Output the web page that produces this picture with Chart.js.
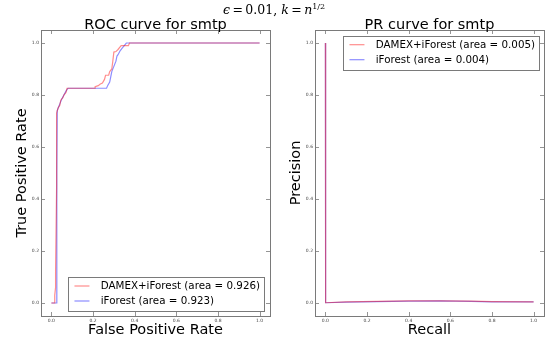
<!DOCTYPE html>
<html>
<head>
  <script src="https://cdn.jsdelivr.net/npm/chart.js"></script>
  <style>
    body { margin: 0; background: #fff; }
    #wrap { position: relative; width: 548px; height: 345px; }
    canvas { position: absolute; top: 0; }
    #suptitle {
      position: absolute; top: 2px; left: 0; width: 548px; text-align: center;
      font-family: "DejaVu Serif", serif; font-size: 12.5px; color: #000;
    }
    #suptitle i { font-style: italic; }
    #suptitle sup { font-size: 8px; vertical-align: 5px; line-height: 0; }
  </style>
</head>
<body>
  <div id="wrap">
    <canvas id="rocChart" width="274" height="345" style="left:0"></canvas>
    <canvas id="prChart" width="274" height="345" style="left:274px"></canvas>
    <div id="suptitle"><i>ϵ</i>&#8201;=&#8201;0.01, <i>k</i>&#8201;=&#8201;<i>n</i><sup>1/2</sup></div>
  </div>
</body>
<script>
  // tick labels shared by both panels
  var tickValues = [0.0, 0.2, 0.4, 0.6, 0.8, 1.0];

  // ROC curve, DAMEX+iForest
  var rocDamexFpr = [0, 0.016, 0.016, 0.02, 0.02, 0.025, 0.025, 0.032, 0.04, 0.045, 0.055, 0.06, 0.07, 0.075,
                     0.21, 0.21, 0.225, 0.235, 0.245, 0.255, 0.26, 0.275, 0.28, 0.29, 0.295, 0.30, 0.31,
                     0.32, 0.33, 0.335, 0.35, 0.37, 0.375, 1.0];
  var rocDamexTpr = [0, 0, 0.03, 0.06, 0.12, 0.45, 0.73, 0.75, 0.76, 0.78, 0.79, 0.80, 0.81, 0.826,
                     0.826, 0.832, 0.836, 0.842, 0.846, 0.86, 0.876, 0.876, 0.89, 0.90, 0.93, 0.965, 0.967,
                     0.975, 0.985, 0.99, 0.99, 0.99, 1.0, 1.0];
  // ROC curve, iForest
  var rocIfFpr = [0, 0.026, 0.026, 0.028, 0.035, 0.04, 0.05, 0.06, 0.07, 0.08, 0.265, 0.27, 0.28, 0.285,
                  0.29, 0.30, 0.31, 0.315, 0.32, 0.33, 0.34, 0.35, 0.36, 1.0];
  var rocIfTpr = [0, 0, 0.5, 0.74, 0.755, 0.765, 0.785, 0.80, 0.815, 0.826, 0.826, 0.836, 0.85, 0.87,
                  0.89, 0.91, 0.93, 0.95, 0.955, 0.97, 0.98, 0.99, 1.0, 1.0];

  // PR curve
  var prDamexRecall = [0, 0, 0.002, 0.1, 0.25, 0.4, 0.55, 0.7, 0.8, 1.0];
  var prDamexPrec   = [1.0, 0.5, 0.001, 0.004, 0.006, 0.008, 0.008, 0.007, 0.005, 0.004];
  var prIfRecall = [0, 0, 0.002, 0.1, 0.25, 0.4, 0.55, 0.7, 0.8, 1.0];
  var prIfPrec   = [1.0, 0.5, 0.001, 0.003, 0.005, 0.007, 0.008, 0.006, 0.004, 0.004];

  var rocLabels = ['DAMEX+iForest (area = 0.926)', 'iForest (area = 0.923)'];
  var prLabels = ['DAMEX+iForest (area = 0.005)', 'iForest (area = 0.004)'];

  var RED = 'rgba(255, 0, 0, 0.45)';
  var BLUE = 'rgba(0, 0, 255, 0.45)';
  var FRAME = '#7a7a7a';
  var FONT = "'DejaVu Sans', sans-serif";

  function pts(xs, ys) {
    return xs.map((x, i) => ({ x: x, y: ys[i] }));
  }

  // frame on four sides with inward ticks, like matplotlib classic
  var framePlugin = {
    id: 'frame',
    afterDatasetsDraw(chart) {
      var a = chart.chartArea, ctx = chart.ctx;
      ctx.save();
      ctx.strokeStyle = FRAME;
      ctx.lineWidth = 1;
      ctx.strokeRect(Math.round(a.left) + 0.5, Math.round(a.top) + 0.5,
                     Math.round(a.right - a.left), Math.round(a.bottom - a.top));
      ctx.lineWidth = 0.8;
      ctx.beginPath();
      chart.scales.x.ticks.forEach(t => {
        var px = Math.round(chart.scales.x.getPixelForValue(t.value)) + 0.5;
        ctx.moveTo(px, a.bottom); ctx.lineTo(px, a.bottom - 4);
        ctx.moveTo(px, a.top); ctx.lineTo(px, a.top + 4);
      });
      chart.scales.y.ticks.forEach(t => {
        var py = Math.round(chart.scales.y.getPixelForValue(t.value)) + 0.5;
        ctx.moveTo(a.left, py); ctx.lineTo(a.left + 4, py);
        ctx.moveTo(a.right, py); ctx.lineTo(a.right - 4, py);
      });
      ctx.stroke();
      ctx.restore();
    }
  };

  // panel title, centred over the plot area (not the canvas)
  var axTitlePlugin = {
    id: 'axTitle',
    afterDraw(chart, args, opts) {
      var a = chart.chartArea, ctx = chart.ctx;
      ctx.save();
      ctx.font = '14.5px ' + FONT;
      ctx.fillStyle = '#000';
      ctx.textAlign = 'center';
      ctx.textBaseline = 'alphabetic';
      ctx.fillText(opts.text, (a.left + a.right) / 2, 29.3);
      ctx.restore();
    }
  };

  // legend box inside the plot area
  var boxLegendPlugin = {
    id: 'boxLegend',
    afterDraw(chart, args, opts) {
      var a = chart.chartArea, ctx = chart.ctx;
      ctx.save();
      ctx.font = '10.3px ' + FONT;
      var tw = Math.max.apply(null, chart.data.datasets.map(d => ctx.measureText(d.label).width));
      var w = 32.6 + tw + 4, h = 34;
      var right = a.right - opts.insetX;
      var left = right - w;
      var top = opts.corner === 'br' ? a.bottom - opts.insetY - h : a.top + opts.insetY;
      ctx.fillStyle = '#fff';
      ctx.fillRect(left, top, w, h);
      ctx.strokeStyle = FRAME;
      ctx.lineWidth = 1;
      ctx.strokeRect(Math.round(left) + 0.5, Math.round(top) + 0.5, Math.round(w), h);
      chart.data.datasets.forEach((d, i) => {
        var y = top + 9 + i * 15;
        ctx.strokeStyle = d.borderColor;
        ctx.lineWidth = 1.2;
        ctx.beginPath();
        ctx.moveTo(left + 6.3, y); ctx.lineTo(left + 21.3, y);
        ctx.stroke();
        ctx.fillStyle = '#000';
        ctx.textBaseline = 'middle';
        ctx.fillText(d.label, left + 32.6, y + 0.5);
      });
      ctx.restore();
    }
  };

  function makeChart(id, title, xTitle, yTitle, labels, sets, corner, insetX, insetY) {
    var ctx = document.getElementById(id).getContext('2d');
    return new Chart(ctx, {
      type: 'scatter',
      data: {
        datasets: [
          { label: labels[0], data: sets[0], borderColor: RED, backgroundColor: RED },
          { label: labels[1], data: sets[1], borderColor: BLUE, backgroundColor: BLUE }
        ].map(d => Object.assign(d, { showLine: true, pointRadius: 0, borderWidth: 1.2, tension: 0 }))
      },
      options: {
        responsive: false,
        animation: false,
        layout: { padding: { top: 30, right: 4, bottom: 0, left: 0 } },
        plugins: {
          legend: { display: false },
          tooltip: { enabled: false },
          title: { display: false },
          axTitle: { text: title },
          boxLegend: { corner: corner, insetX: insetX, insetY: insetY }
        },
        scales: {
          x: {
            type: 'linear',
            min: -0.05, max: 1.05,
            afterBuildTicks: s => { s.ticks = tickValues.map(v => ({ value: v })); },
            afterFit: s => { s.height = 29; },
            grid: { display: false, drawTicks: false },
            border: { display: false },
            ticks: { padding: 2, color: '#444', font: { family: FONT, size: 4.5 },
                     maxRotation: 0, callback: v => v.toFixed(1) },
            title: { display: true, text: xTitle, color: '#000',
                     font: { family: FONT, size: 14.5 }, padding: { top: 0, bottom: 5.8 } }
          },
          y: {
            type: 'linear',
            min: -0.05, max: 1.05,
            afterBuildTicks: s => { s.ticks = tickValues.map(v => ({ value: v })); },
            afterFit: s => { s.width = 41; },
            grid: { display: false, drawTicks: false },
            border: { display: false },
            ticks: { padding: 2, color: '#444', font: { family: FONT, size: 4.5 },
                     callback: v => v.toFixed(1) },
            title: { display: true, text: yTitle, color: '#000',
                     font: { family: FONT, size: 14.5 }, padding: { top: 13.3, bottom: 0 } }
          }
        }
      },
      plugins: [framePlugin, axTitlePlugin, boxLegendPlugin]
    });
  }

  makeChart('rocChart', 'ROC curve for smtp', 'False Positive Rate', 'True Positive Rate', rocLabels,
            [pts(rocDamexFpr, rocDamexTpr), pts(rocIfFpr, rocIfTpr)], 'br', 6, 5);
  makeChart('prChart', 'PR curve for smtp', 'Recall', 'Precision', prLabels,
            [pts(prDamexRecall, prDamexPrec), pts(prIfRecall, prIfPrec)], 'tr', 5, 5.7);
</script>
</html>
